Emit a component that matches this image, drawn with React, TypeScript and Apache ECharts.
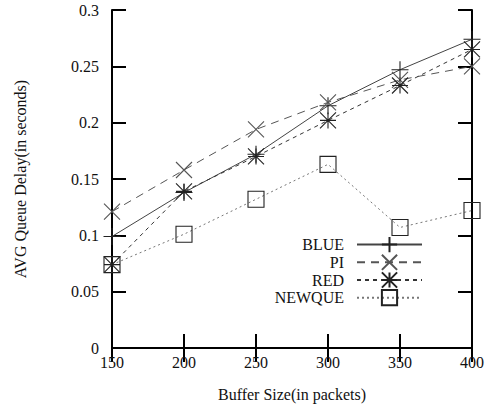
import React, { useEffect, useRef } from "react";
import * as echarts from "echarts";

const bufferSizes = [150, 200, 250, 300, 350, 400];
const blueDelay = [0.099, 0.138, 0.172, 0.215, 0.247, 0.274];
const piDelay = [0.121, 0.158, 0.194, 0.218, 0.238, 0.25];
const redDelay = [0.074, 0.139, 0.17, 0.202, 0.233, 0.265];
const newqueDelay = [0.074, 0.101, 0.132, 0.163, 0.107, 0.122];

const FONT = "'Liberation Serif', 'DejaVu Serif', serif";

const PLUS = "path://M5 0 L5 10 M0 5 L10 5";
const CROSS = "path://M0 0 L10 10 M10 0 L0 10";
const STAR = "path://M0 0 L10 10 M10 0 L0 10 M5 0 L5 10 M0 5 L10 5";
const SQUARE = "path://M0 0 L10 0 L10 10 L0 10 Z";

function pairs(vals: number[]) {
  return bufferSizes.map((x, i) => [x, vals[i]]);
}

export default function App() {
  const ref = useRef<HTMLDivElement>(null);
  useEffect(() => {
    if (!ref.current) return;
    const chart = echarts.init(ref.current, null, { renderer: "svg" });
    const axisLine = { show: true, lineStyle: { color: "#000", width: 2 } };
    const axisTick = { show: true, inside: true, length: 14, lineStyle: { color: "#000", width: 2 } };
    const mk = (name: string, vals: number[], symbol: string, size: number, lineColor: string, markColor: string, type: any) => ({
      name,
      type: "line",
      data: pairs(vals),
      symbol,
      symbolSize: size,
      showAllSymbol: true,
      lineStyle: { color: lineColor, width: 1, type },
      itemStyle: { color: "transparent", borderColor: markColor, borderWidth: 1.1 },
      emphasis: { disabled: true },
    });
    chart.setOption({
      animation: false,
      grid: { left: 112, right: 18, top: 10, bottom: 62, containLabel: false, outerBoundsMode: "none" },
      legend: {
        orient: "vertical",
        align: "right",
        right: 67,
        top: 236,
        padding: 0,
        itemWidth: 65,
        itemHeight: 19,
        itemGap: 0.5,
        textStyle: { fontFamily: FONT, fontSize: 16, color: "#111", padding: [0, 8, 0, 0] },
        data: ["BLUE", "PI", "RED", "NEWQUE"],
      },
      xAxis: [
        {
          type: "value",
          min: 150,
          max: 400,
          interval: 50,
          position: "bottom",
          name: "Buffer Size(in packets)",
          nameLocation: "middle",
          nameGap: 38,
          nameTextStyle: { fontFamily: FONT, fontSize: 16, color: "#111" },
          axisLine,
          axisTick,
          splitLine: { show: false },
          axisLabel: { fontFamily: FONT, fontSize: 16, color: "#111", margin: 6 },
        },
        {
          type: "value",
          min: 150,
          max: 400,
          interval: 50,
          position: "top",
          axisLine,
          axisTick,
          splitLine: { show: false },
          axisLabel: { show: false },
        },
      ],
      yAxis: [
        {
          type: "value",
          min: 0,
          max: 0.3,
          interval: 0.05,
          position: "left",
          name: "AVG Queue Delay(in seconds)",
          nameLocation: "middle",
          nameGap: 84,
          nameTextStyle: { fontFamily: FONT, fontSize: 16, color: "#111" },
          axisLine,
          axisTick,
          splitLine: { show: false },
          axisLabel: {
            fontFamily: FONT,
            fontSize: 16,
            color: "#111",
            margin: 13,
            formatter: (v: number) => String(+v.toFixed(2)),
          },
        },
        {
          type: "value",
          min: 0,
          max: 0.3,
          interval: 0.05,
          position: "right",
          axisLine,
          axisTick,
          splitLine: { show: false },
          axisLabel: { show: false },
        },
      ],
      series: [
        mk("BLUE", blueDelay, PLUS, 17, "#444", "#222", "solid"),
        mk("PI", piDelay, CROSS, 16, "#555", "#555", [8, 6]),
        mk("RED", redDelay, STAR, 16, "#333", "#222", [4, 4]),
        mk("NEWQUE", newqueDelay, SQUARE, 16, "#777", "#222", [2, 3]),
      ],
    });
    return () => chart.dispose();
  }, []);
  return <div ref={ref} style={{ width: 490, height: 410, position: "absolute", left: 0, top: 0 }} />;
}
